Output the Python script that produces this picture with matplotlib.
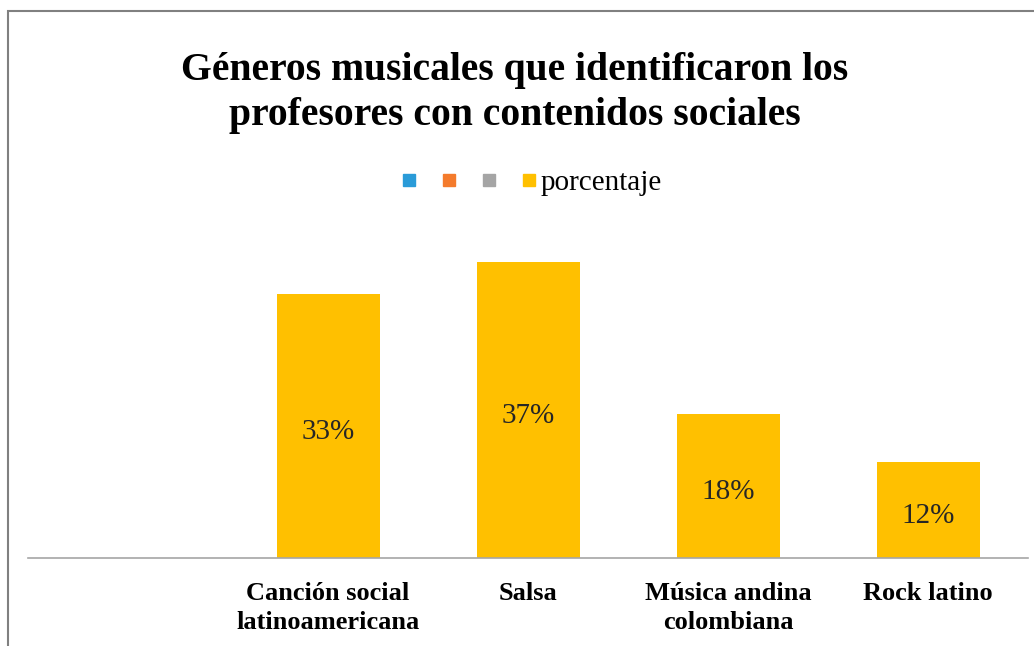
import matplotlib
matplotlib.use("Agg")
import matplotlib.pyplot as plt
from matplotlib.lines import Line2D
from matplotlib.patches import Rectangle

categories = ["Canción social\nlatinoamericana", "Salsa", "Música andina\ncolombiana", "Rock latino"]
values = [33, 37, 18, 12]
value_labels = ["33%", "37%", "18%", "12%"]
legend_labels = ["", "", "", "porcentaje"]
legend_colors = ["#2A9BD8", "#F47B2C", "#A5A5A5", "#FFC000"]
title = "Géneros musicales que identificaron los\nprofesores con contenidos sociales"

plt.rcParams["font.family"] = ["Liberation Serif", "DejaVu Serif"]

W, H = 1034, 646
fig = plt.figure(figsize=(W / 100, H / 100), dpi=100)

# outer chart frame
fig.patches.append(Rectangle((8 / W, -0.1), 1.2, 1 - 11 / H + 0.1,
                             transform=fig.transFigure, fill=False,
                             edgecolor="#808080", linewidth=1.5))

ax = fig.add_axes([28 / W, (H - 558) / H, 1000 / W, 320 / H])
x = list(range(len(categories)))
bars = ax.bar(x, values, width=0.515, color="#FFC000", zorder=2)
ax.set_xlim(-1.5, len(categories) - 0.5)
ax.set_ylim(0, 40)

for b, v, lab in zip(bars, values, value_labels):
    ax.annotate(lab, (b.get_x() + b.get_width() / 2, v / 2), xytext=(0, -4.5),
                textcoords="offset points", ha="center", va="center",
                fontsize=21, color="#262626")

for s in ["top", "left", "right"]:
    ax.spines[s].set_visible(False)
ax.spines["bottom"].set_color("#A6A6A6")
ax.spines["bottom"].set_linewidth(1.2)
ax.set_yticks([])
ax.set_xticks(x)
ax.set_xticklabels(categories, fontsize=19, fontweight="bold", linespacing=1.35)
ax.tick_params(axis="x", length=0, pad=17)

fig.text(0.498, 1 - 93 / H, title, ha="center", va="center", fontsize=28.5,
         fontweight="bold", linespacing=1.3)

handles = [Line2D([], [], marker="s", linestyle="none", markersize=9,
                  markerfacecolor=c, markeredgecolor=c) for c in legend_colors]
fig.legend(handles, legend_labels, loc="center", bbox_to_anchor=(532 / W, 1 - 183 / H),
           ncol=4, frameon=False, fontsize=21, handlelength=0.5, handletextpad=0.15,
           columnspacing=0.72, borderpad=0)

fig.savefig("out.png", dpi=100, facecolor="white")
